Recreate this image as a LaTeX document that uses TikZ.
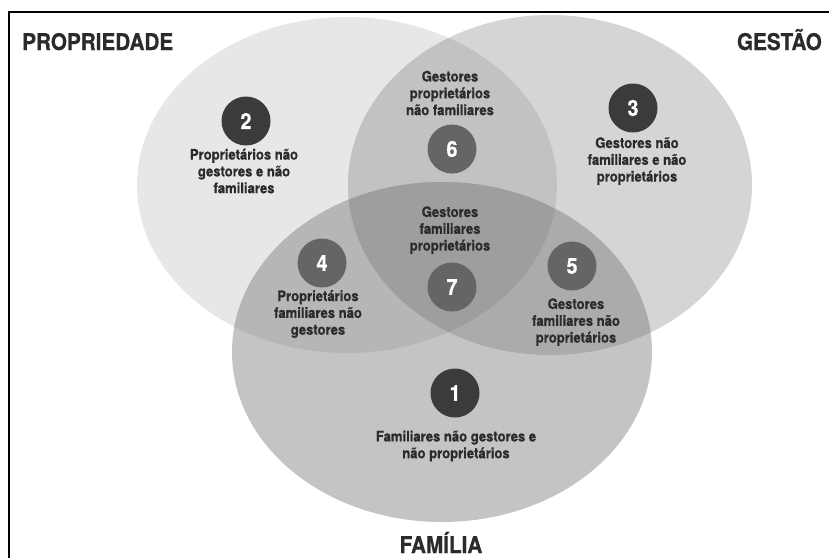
\documentclass[tikz,border=0pt]{standalone}
\usepackage{fontspec}
\setmainfont{TeX Gyre Heros}[FakeStretch=0.9, BoldFeatures={FakeBold=0.6}]
\definecolor{cP}{HTML}{E7E7E7}
\definecolor{cG}{HTML}{D5D5D5}
\definecolor{cF}{HTML}{C4C4C4}
\definecolor{cPG}{HTML}{C2C2C2}
\definecolor{cPF}{HTML}{B6B6B6}
\definecolor{cGF}{HTML}{ABABAB}
\definecolor{cPGF}{HTML}{9E9E9E}
\definecolor{diskdark}{HTML}{3D3A3A}
\definecolor{diskmid}{HTML}{656565}
\definecolor{txt}{HTML}{2B2B2B}
\tikzset{
  disk/.style={circle, fill=#1, minimum size=49pt, inner sep=0pt, text=white, font=\bfseries\fontsize{22}{22}\selectfont},
  lbl/.style={align=center, text=txt, inner sep=0pt, font=\bfseries\fontsize{14.5}{16.8}\selectfont},
  ttl/.style={text=txt, inner sep=0pt, font=\bfseries\fontsize{23}{23}\selectfont},
}
\begin{document}
\begin{tikzpicture}[x=1pt,y=-1pt]
\useasboundingbox (0,0) rectangle (829,558);
\fill[white] (0,0) rectangle (829,558);
% sets
\def\Pset{(347,185) ellipse [x radius=210, y radius=168]}
\def\Gset{(550,185) ellipse [x radius=202, y radius=170]}
\def\Fset{(442,352) ellipse [x radius=210, y radius=170]}
\fill[cP] \Pset;
\fill[cG] \Gset;
\fill[cF] \Fset;
\begin{scope}
  \clip \Pset;
  \fill[cPG] \Gset;
  \fill[cPF] \Fset;
\end{scope}
\begin{scope}
  \clip \Gset;
  \fill[cGF] \Fset;
\end{scope}
\begin{scope}
  \clip \Pset;
  \clip \Gset;
  \fill[cPGF] \Fset;
\end{scope}
% frame
\draw[line width=2.6pt, black] (9,558) -- (9,12) -- (829,12);
% titles
\node[ttl, anchor=base west] (tP) at (22,50) {PROPRIEDADE};
\node[ttl, anchor=base east] (tG) at (822,50) {GESTÃO};
\node[ttl, anchor=base] (tF) at (441,553) {FAMÍLIA};
% disks
\node[disk=diskdark] (d1) at (455,393) {1};
\node[disk=diskdark] (d2) at (246,121) {2};
\node[disk=diskdark] (d3) at (633,108) {3};
\node[disk=diskmid] (d4) at (322,263) {4};
\node[disk=diskmid] (d5) at (572,266) {5};
\node[disk=diskmid] (d6) at (452,149) {6};
\node[disk=diskmid] (d7) at (452,287) {7};
% labels
\node[lbl] (l1) at (456,446) {Familiares não gestores e\\não proprietários};
\node[lbl] (l2) at (244,171) {Proprietários não\\gestores e não\\familiares};
\node[lbl] (l3) at (637,161) {Gestores não\\familiares e não\\proprietários};
\node[lbl] (l4) at (318,314) {Proprietários\\familiares não\\gestores};
\node[lbl] (l5) at (576,322) {Gestores\\familiares não\\proprietários};
\node[lbl] (l6) at (450,93) {Gestores\\proprietários\\não familiares};
\node[lbl] (l7) at (450,230) {Gestores\\familiares\\proprietários};
\end{tikzpicture}
\end{document}
